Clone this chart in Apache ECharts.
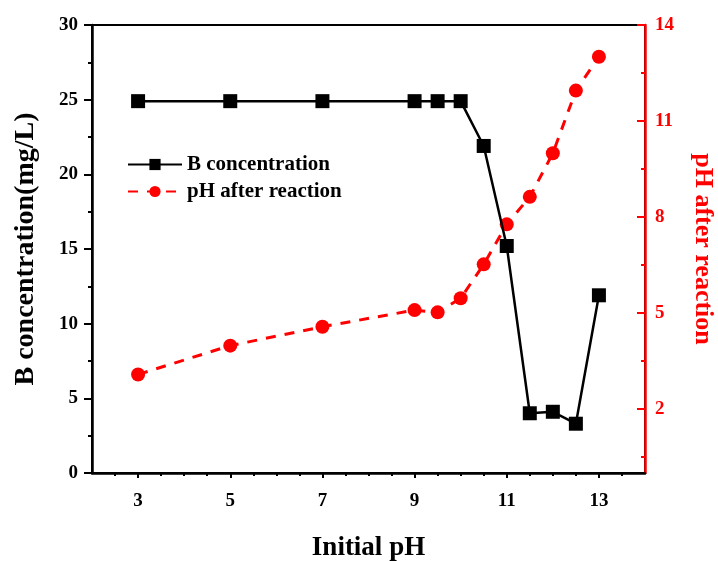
<!DOCTYPE html>
<html>
<head>
<meta charset="utf-8">
<style>
  html, body { margin: 0; padding: 0; background: #fff; }
  #chart { width: 718px; height: 561px; }
</style>
<script src="https://cdn.jsdelivr.net/npm/echarts@6/dist/echarts.min.js"></script>
</head>
<body>
<div id="chart"></div>
<script>
  // initial pH values on the x axis
  var initialPH = [3, 5, 7, 9, 9.5, 10, 10.5, 11, 11.5, 12, 12.5, 13];
  // B concentration (mg/L), left axis
  var bConc = [24.9, 24.9, 24.9, 24.9, 24.9, 24.9, 21.9, 15.2, 4.0, 4.1, 3.3, 11.9];
  // pH after reaction, right axis
  var phAfter = [3.08, 3.98, 4.57, 5.09, 5.02, 5.46, 6.52, 7.77, 8.63, 9.99, 11.95, 13.01];

  var xTicks = [3, 5, 7, 9, 11, 13];
  var xMinorTicks = [2.5, 3.5, 4, 4.5, 5.5, 6, 6.5, 7.5, 8, 8.5, 9.5, 10, 10.5, 11.5, 12, 12.5, 13.5];
  var rightTicks = [2, 5, 8, 11, 14];
  var rightMinorTicks = [0.5, 3.5, 6.5, 9.5, 12.5];

  var font = "Liberation Serif";

  function pairs(xs, ys) {
    return xs.map(function (x, i) { return [x, ys[i]]; });
  }

  var chart = echarts.init(document.getElementById("chart"));

  chart.setOption({
    animation: false,
    textStyle: { fontFamily: font },
    grid: {
      left: 92, right: 73, top: 25, bottom: 88,
      outerBoundsMode: "none",
      containLabel: false,
      show: true, borderColor: "#000", borderWidth: 2
    },
    legend: {
      orient: "vertical",
      left: 122,
      top: 149,
      itemWidth: 54,
      itemHeight: 14,
      itemGap: 6,
      textStyle: { fontFamily: font, fontWeight: "bold", fontSize: 21, color: "#000" },
      data: ["B concentration", "pH after reaction"]
    },
    xAxis: [
      {
        type: "value", min: 2, max: 14,
        name: "Initial pH", nameLocation: "middle", nameGap: 62,
        nameTextStyle: { fontFamily: font, fontWeight: "bold", fontSize: 27, color: "#000" },
        axisLine: { lineStyle: { color: "#000", width: 2.5 } },
        axisTick: { customValues: xTicks, length: 5, lineStyle: { color: "#000", width: 2 } },
        axisLabel: { customValues: xTicks, margin: 19, fontFamily: font, fontWeight: "bold", fontSize: 19, color: "#000" },
        splitLine: { show: false }
      },
      {
        type: "value", min: 2, max: 14, position: "bottom",
        axisLine: { show: false },
        axisTick: { customValues: xMinorTicks, length: 3, lineStyle: { color: "#000", width: 2 } },
        axisLabel: { show: false },
        splitLine: { show: false }
      }
    ],
    yAxis: [
      {
        type: "value", min: 0, max: 30, interval: 5, position: "left",
        name: "B concentration(mg/L)", nameLocation: "middle", nameGap: 52, nameRotate: 90,
        nameTextStyle: { fontFamily: font, fontWeight: "bold", fontSize: 28, color: "#000" },
        axisLine: { show: true, lineStyle: { color: "#000", width: 2.5 } },
        axisTick: { show: true, length: 8, lineStyle: { color: "#000", width: 2 } },
        minorTick: { show: true, splitNumber: 2, length: 4, lineStyle: { color: "#000", width: 2 } },
        axisLabel: { margin: 14, fontFamily: font, fontWeight: "bold", fontSize: 19, color: "#000" },
        splitLine: { show: false }
      },
      {
        type: "value", min: 0, max: 14, position: "right",
        name: "pH after reaction", nameLocation: "middle", nameGap: 45, nameRotate: -90,
        nameTextStyle: { fontFamily: font, fontWeight: "bold", fontSize: 26, color: "#ff0000" },
        axisLine: { show: true, lineStyle: { color: "#ff0000", width: 2.5 } },
        axisTick: { show: true, inside: true, customValues: rightTicks, length: 8, lineStyle: { color: "#ff0000", width: 2 } },
        axisLabel: { customValues: rightTicks, margin: 10, fontFamily: font, fontWeight: "bold", fontSize: 19, color: "#ff0000" },
        splitLine: { show: false }
      },
      {
        type: "value", min: 0, max: 14, position: "right",
        axisLine: { show: false },
        axisTick: { show: true, inside: true, customValues: rightMinorTicks, length: 4, lineStyle: { color: "#ff0000", width: 2 } },
        axisLabel: { show: false },
        splitLine: { show: false }
      }
    ],
    series: [
      {
        name: "B concentration",
        type: "line",
        yAxisIndex: 0,
        data: pairs(initialPH, bConc),
        symbol: "rect",
        symbolSize: 14,
        itemStyle: { color: "#000" },
        lineStyle: { color: "#000", width: 2.5 },
        z: 3
      },
      {
        name: "pH after reaction",
        type: "line",
        yAxisIndex: 1,
        data: pairs(initialPH, phAfter),
        symbol: "circle",
        symbolSize: 14,
        itemStyle: { color: "#ff0000" },
        lineStyle: { color: "#ff0000", width: 3, type: [10, 9] },
        z: 2
      }
    ]
  });
</script>
</body>
</html>
